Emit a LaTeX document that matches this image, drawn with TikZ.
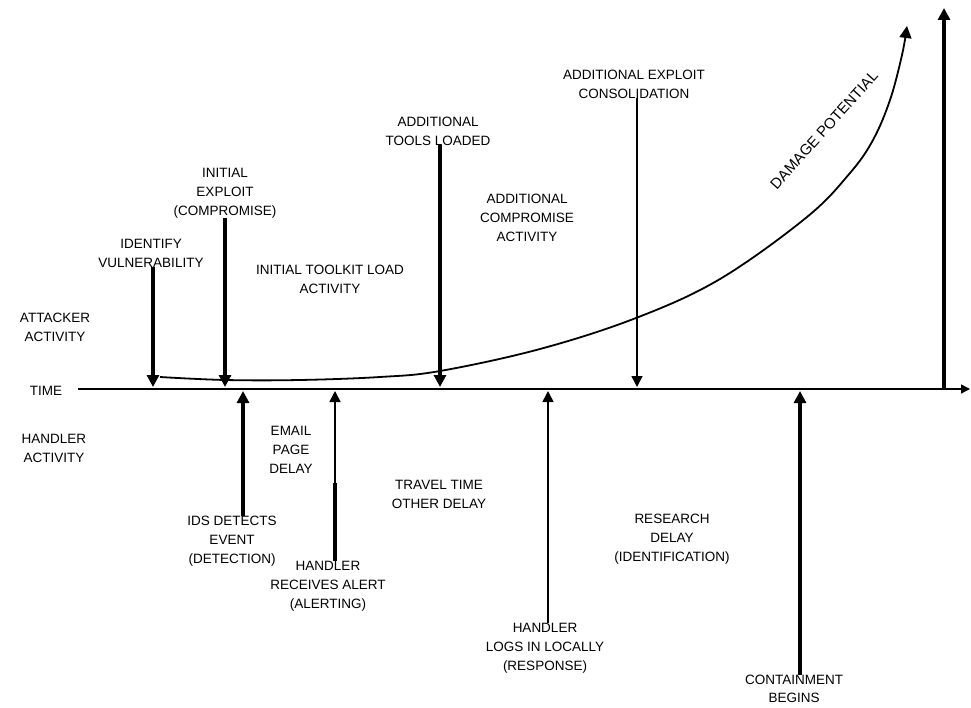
\documentclass[tikz,border=0pt]{standalone}
\usepackage{fontspec}
\setmainfont{Liberation Sans}
\usetikzlibrary{arrows.meta}
\begin{document}
\begin{tikzpicture}[x=1pt,y=-1pt,
  lbl/.style={align=center,font=\fontsize{13.5}{19}\selectfont,inner sep=0pt},
  thickarr/.style={line width=3.2pt,-{Triangle[width=12pt,length=12pt]}},
  thinarr/.style={line width=1.6pt,-{Triangle[width=11pt,length=11pt]}},
  axisline/.style={line width=1.6pt,-{Triangle[width=9pt,length=9pt]}},
  curveline/.style={line width=1.8pt,-{Triangle[width=12pt,length=12pt]}}]
\useasboundingbox (0,0) rectangle (971,708);
% axis
\coordinate (ax0) at (78,389);
\coordinate (ax1) at (970,389);
\draw[axisline] (ax0) -- (ax1);
\node[lbl] (time) at (46,391) {TIME};
\node[lbl] (att) at (55,327) {ATTACKER\\ACTIVITY};
\node[lbl] (hand) at (54,448) {HANDLER\\ACTIVITY};
% attacker tips on the axis
\coordinate (t1) at (153,387);
\coordinate (t2) at (225,387);
\coordinate (t3) at (440,387);
\coordinate (t4) at (637,387);
% attacker labels
\node[lbl] (l1) at (151,253) {IDENTIFY\\VULNERABILITY};
\node[lbl] (l2) at (225,193) {INITIAL\\EXPLOIT\\(COMPROMISE)};
\node[lbl] (l3) at (438,131) {ADDITIONAL\\TOOLS LOADED};
\node[lbl] (l4) at (634,84) {ADDITIONAL EXPLOIT\\CONSOLIDATION};
\node[lbl] (l5) at (330,279) {INITIAL TOOLKIT LOAD\\ACTIVITY};
\node[lbl] (l6) at (527,218) {ADDITIONAL\\COMPROMISE\\ACTIVITY};
\draw[thickarr] (l1.south -| t1) -- (t1);
\draw[thickarr] (l2.south -| t2) -- (t2);
\draw[thickarr] (l3.south -| t3) -- (t3);
\draw[thinarr] (l4.south -| t4) -- (t4);
% handler tips on the axis
\coordinate (b1) at (243,391);
\coordinate (b2) at (335,391);
\coordinate (b3) at (548,391);
\coordinate (b4) at (800,391);
\node[lbl] (h1) at (232,541) {IDS DETECTS\\EVENT\\(DETECTION)};
\node[lbl] (h2) at (328,586) {HANDLER\\RECEIVES ALERT\\(ALERTING)};
\node[lbl] (h3) at (545,648) {HANDLER\\LOGS IN LOCALLY\\(RESPONSE)};
\node[lbl,font=\fontsize{13.5}{18}\selectfont] (h4) at (794,689) {CONTAINMENT\\BEGINS};
\draw[thickarr] (h1.north -| b1) -- (b1);
\draw[thinarr] (h2.north -| b2) -- (b2);
\coordinate (b2m) at (335,483);
\draw[line width=3.2pt] (h2.north -| b2) -- (b2m);
\draw[thinarr] (h3.north -| b3) -- (b3);
\draw[thickarr] (h4.north -| b4) -- (b4);
% delays
\node[lbl] (d1) at (291,450) {EMAIL\\PAGE\\DELAY};
\node[lbl] (d2) at (439,494) {TRAVEL TIME\\OTHER DELAY};
\node[lbl] (d3) at (672,539) {RESEARCH\\DELAY\\(IDENTIFICATION)};
% damage curve
\coordinate (c0) at (160,377);
\coordinate (c9) at (907,26);
\draw[curveline] plot[smooth,tension=0.6] coordinates {(c0) (225,380) (300,380) (380,377) (440,371) (540,349) (636,318) (720,279) (807,217) (850,173) (873,140) (890,100) (902,55) (c9)};
\node[lbl,font=\fontsize{15}{18}\selectfont,rotate=48] (dmg) at (824,130) {DAMAGE POTENTIAL};
% big right arrow
\coordinate (r0) at (944,389);
\coordinate (r1) at (944,8);
\draw[thickarr] (r0) -- (r1);
\end{tikzpicture}
\end{document}
